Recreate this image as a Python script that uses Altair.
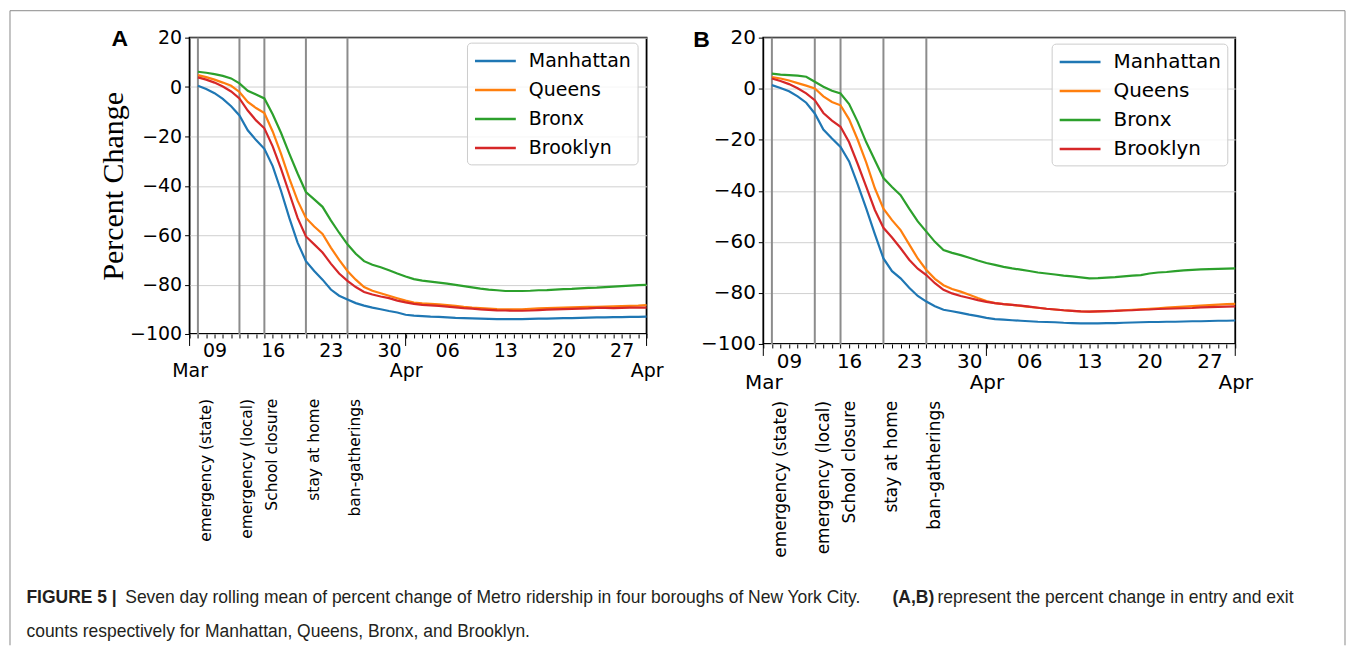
import altair as alt
import pandas as pd

# ---------------- data ----------------
boroughs = ["Manhattan", "Queens", "Bronx", "Brooklyn"]
colors = ["#1f77b4", "#ff7f0e", "#2ca02c", "#d62728"]

# day number counted from 1 March (1 April = 32); Mar 7 .. Apr 30
days = list(range(7, 62))

a_manhattan = [0.5, -0.8, -2.5, -4.8, -7.8, -11.5, -17.5, -21.5, -25, -32, -42, -53, -63, -70.5, -74.5,
               -78, -82, -84.5, -86, -87.5, -88.5, -89.3, -90, -90.7, -91.3,
               -92.2, -92.6, -92.8, -93, -93.1, -93.3, -93.5, -93.6, -93.7, -93.8, -93.9, -94, -94, -94, -94,
               -93.9, -93.8, -93.8, -93.7, -93.6, -93.6, -93.5, -93.4, -93.3, -93.3, -93.2, -93.2, -93.1, -93.1, -93]
a_queens = [4.8, 4.0, 3.0, 1.8, 0.5, -2, -6, -8.5, -10.5, -18, -27, -37, -46, -53, -56.5,
            -59.5, -65, -70, -74.5, -78, -81, -82.5, -83.5, -84.5, -85.5,
            -86.5, -87.3, -87.6, -87.8, -88, -88.3, -88.6, -89, -89.3, -89.5, -89.7, -89.9, -90, -90, -90,
            -89.8, -89.6, -89.5, -89.4, -89.3, -89.2, -89.1, -89.0, -89.0, -88.9, -88.8, -88.7, -88.6, -88.5, -88.3]
a_bronx = [6.2, 5.8, 5.2, 4.5, 3.5, 1.5, -1.5, -3, -4.6, -11, -18.5, -27, -35, -42.5, -45.5,
           -48.5, -54, -59, -63.7, -67.5, -70.5, -72, -73, -74.2, -75.5,
           -76.7, -77.8, -78.4, -78.8, -79.2, -79.6, -80.1, -80.6, -81.1, -81.6, -82, -82.3, -82.6, -82.6, -82.6,
           -82.5, -82.3, -82.2, -82, -81.8, -81.7, -81.5, -81.3, -81.2, -81, -80.8, -80.6, -80.4, -80.2, -80.1]
a_brooklyn = [3.9, 3, 1.8, 0.2, -1.8, -4.6, -9.5, -13.5, -16.7, -24, -33, -43, -53, -60.5, -63.7,
              -67, -71.5, -75.5, -78.5, -81, -83, -84, -84.8, -85.5, -86.5,
              -87.2, -87.8, -88.2, -88.4, -88.6, -88.9, -89.2, -89.5, -89.7, -90, -90.2, -90.4, -90.5, -90.6, -90.6,
              -90.5, -90.3, -90.1, -90, -89.9, -89.8, -89.7, -89.6, -89.4, -89.4, -89.5, -89.4, -89.3, -89.3, -89.3]

b_manhattan = [1.4, 0.3, -1, -3, -5.5, -9.7, -16, -19.5, -22.8, -28.5, -37.5, -47, -57, -66.5, -71.5,
               -74.3, -78, -81.2, -83.4, -85.2, -86.6, -87.2, -87.8, -88.5, -89.1,
               -89.8, -90.3, -90.5, -90.7, -90.9, -91.1, -91.3, -91.4, -91.5, -91.7, -91.8, -91.9, -91.9, -91.9, -91.8,
               -91.8, -91.7, -91.6, -91.5, -91.4, -91.4, -91.3, -91.3, -91.2, -91.1, -91.1, -91, -90.9, -90.9, -90.8]
b_queens = [4.6, 4.0, 3.2, 2.2, 1.2, 0.1, -3, -5.2, -6.5, -12, -20, -29, -39, -47, -51.5,
            -55.4, -61, -66.5, -71, -74.5, -77, -78.5, -79.5, -80.7, -82,
            -83.2, -84, -84.4, -84.7, -85.1, -85.5, -85.8, -86.2, -86.5, -86.8, -87, -87.2, -87.3, -87.2, -87.1,
            -87, -86.8, -86.6, -86.4, -86.2, -86, -85.8, -85.6, -85.4, -85.2, -85, -84.8, -84.6, -84.4, -84.3]
b_bronx = [5.9, 5.5, 5.3, 5.1, 4.7, 2.7, 0.8, -0.8, -1.9, -6, -13, -21, -28, -35, -38.5,
           -41.7, -47, -52, -56, -60, -63.2, -64.3, -65.2, -66.2, -67.3,
           -68.3, -69, -69.8, -70.4, -70.9, -71.4, -72, -72.4, -72.8, -73.2, -73.5, -73.9, -74.3, -74.2, -74,
           -73.8, -73.5, -73.2, -73, -72.4, -72, -71.8, -71.5, -71.2, -71, -70.8, -70.7, -70.6, -70.5, -70.4]
b_brooklyn = [4, 3, 1.8, 0.2, -1.8, -4.5, -9.5, -12.5, -14.9, -21, -29.5, -38.5, -47.5, -54.5, -58.3,
              -62.5, -67, -70.5, -73, -76.2, -78.8, -80.2, -81.2, -82, -82.8,
              -83.5, -84, -84.4, -84.7, -85, -85.4, -85.8, -86.2, -86.5, -86.8, -87, -87.2, -87.3, -87.2, -87.1,
              -87, -86.9, -86.8, -86.6, -86.5, -86.3, -86.2, -86.1, -86, -85.9, -85.7, -85.6, -85.5, -85.4, -85.3]

event_days = [7, 12, 15, 20, 25]
event_names = ["emergency (state)", "emergency (local)", "School closure", "stay at home", "ban-gatherings"]

week_ticks = [9, 16, 23, 30, 37, 44, 51, 58]
week_labels = ["09", "16", "23", "30", "06", "13", "20", "27"]
month_ticks = [6, 32, 61]
month_labels = ["Mar", "Apr", "Apr"]
day_ticks = list(range(6, 62))
y_ticks = [-100, -80, -60, -40, -20, 0, 20]

cap_bold1 = "FIGURE 5 |"
cap_text1 = "Seven day rolling mean of percent change of Metro ridership in four boroughs of New York City."
cap_bold2 = "(A,B)"
cap_text2 = "represent the percent change in entry and exit"
cap_line2 = "counts respectively for Manhattan, Queens, Bronx, and Brooklyn."

for s in [a_manhattan, a_queens, a_bronx, a_brooklyn, b_manhattan, b_queens, b_bronx, b_brooklyn]:
    assert len(s) == len(days), len(s)


def x_label_expr():
    # two-line label per daily tick: [day-of-month label, month label]
    items = []
    for d in day_ticks:
        w = week_labels[week_ticks.index(d)] if d in week_ticks else ""
        m = month_labels[month_ticks.index(d)] if d in month_ticks else ""
        items.append("['" + w + "','" + m + "']")
    return "[" + ",".join(items) + "][round(datum.value) - " + str(day_ticks[0]) + "]"


def long_df(series):
    rows = []
    for name, vals in zip(boroughs, series):
        for d, v in zip(days, vals):
            rows.append({"day": d, "borough": name, "value": v})
    return pd.DataFrame(rows)


one = pd.DataFrame({"k": [0]})
ev_df = pd.DataFrame({"day": event_days, "name": event_names})
month_df = pd.DataFrame({"day": month_ticks})


def cap_text(txt, x, y, bold):
    return alt.Chart(one).mark_text(align="left", baseline="middle", font="Liberation Sans", fontSize=17.5,
                                    fontWeight="bold" if bold else "normal", color="#231f20").encode(
        x=alt.value(x), y=alt.value(y), text=alt.value(txt))


def panel(series, width, height, fs, ev_fs, ev_y, letter, lx, ly, ytitle, lgx, lgy, extras=False):
    xscale = alt.Scale(domain=[6, 61], nice=False, zero=False)
    yscale = alt.Scale(domain=[-100, 20], nice=False, zero=False)
    yaxis_kw = dict(values=y_ticks, tickSize=5, labelPadding=3, grid=True, labelFontSize=fs,
                    labelFont="DejaVu Sans", labelColor="black", tickColor="black", domain=False)
    if ytitle:
        yaxis = alt.Axis(title="Percent Change", titleFont="Liberation Serif", titleFontSize=30,
                         titleFontWeight="normal", titleColor="black", titlePadding=1, **yaxis_kw)
    else:
        yaxis = alt.Axis(title=None, **yaxis_kw)
    xaxis = alt.Axis(values=day_ticks, labelExpr=x_label_expr(), tickSize=4, grid=False, domain=False,
                     title=None, labelFontSize=fs, labelFont="DejaVu Sans", labelColor="black",
                     labelFlush=False, labelOverlap=False, labelBound=False, labelPadding=4,
                     labelLineHeight=fs + 1, tickColor="black")
    X = alt.X("day:Q", scale=xscale, axis=xaxis)

    rules = alt.Chart(ev_df).mark_rule(color="#8c8c8c", strokeWidth=2).encode(x=X)
    lines = alt.Chart(long_df(series)).mark_line(strokeWidth=2.2).encode(
        x=X,
        y=alt.Y("value:Q", scale=yscale, axis=yaxis),
        color=alt.Color("borough:N", scale=alt.Scale(domain=boroughs, range=colors),
                        legend=alt.Legend(title=None, orient="none", legendX=lgx, legendY=lgy,
                                          symbolType="M-1.86,0L1.86,0", symbolSize=484, symbolOffset=10,
                                          symbolStrokeWidth=2.5, labelFontSize=fs,
                                          labelFont="DejaVu Sans", labelColor="black",
                                          strokeColor="#cccccc", fillColor="rgba(255,255,255,0.8)",
                                          cornerRadius=4, padding=6, rowPadding=6, labelOffset=21)),
    )
    month_marks = alt.Chart(month_df).mark_rule(color="black", strokeWidth=1).encode(
        x=X, y=alt.value(height), y2=alt.value(height + 12))
    texts = alt.Chart(ev_df).mark_text(angle=270, align="right", baseline="top", fontSize=ev_fs,
                                       font="DejaVu Sans", color="black", dy=1).encode(
        x=X, y=alt.value(ev_y), text="name:N")
    letter_mark = alt.Chart(one).mark_text(fontSize=23, fontWeight="bold", font="Liberation Sans",
                                           color="black", align="center", baseline="middle").encode(
        x=alt.value(lx), y=alt.value(ly), text=alt.value(letter))
    layers = [rules, lines, month_marks, texts, letter_mark]
    if extras:
        fc = "#8a8a8a"
        layers += [
            alt.Chart(one).mark_rule(color=fc, strokeWidth=1).encode(
                x=alt.value(-180), y=alt.value(-27), y2=alt.value(609)),
            alt.Chart(one).mark_rule(color=fc, strokeWidth=1).encode(
                x=alt.value(-180), x2=alt.value(1158), y=alt.value(-27)),
            alt.Chart(one).mark_rule(color=fc, strokeWidth=1).encode(
                x=alt.value(1158), y=alt.value(-27), y2=alt.value(609)),
            cap_text(cap_bold1, -163.5, 561.5, True),
            cap_text(cap_text1, -64.5, 561.5, False),
            cap_text(cap_bold2, 704.5, 561.5, True),
            cap_text(cap_text2, 749.5, 561.5, False),
            cap_text(cap_line2, -163.5, 595.5, False),
        ]
    return alt.layer(*layers).properties(width=width, height=height)


panel_a = panel([a_manhattan, a_queens, a_bronx, a_brooklyn], 458, 297, 19, 15.5, 362,
                "A", -70, 1, True, 278, 5, extras=True)
panel_b = panel([b_manhattan, b_queens, b_bronx, b_brooklyn], 473, 307, 20, 17, 364,
                "B", -62, 2, False, 289, 6)

chart = alt.hconcat(panel_a, panel_b, spacing=117, bounds="flush").resolve_scale(
    color="independent"
).properties(padding=0, background="white").configure_view(
    stroke="black", strokeWidth=1.8
).configure_axis(gridColor="#d0d0d0", gridWidth=1)

chart.save("out.html", embed_options={"renderer": "svg", "actions": False})
